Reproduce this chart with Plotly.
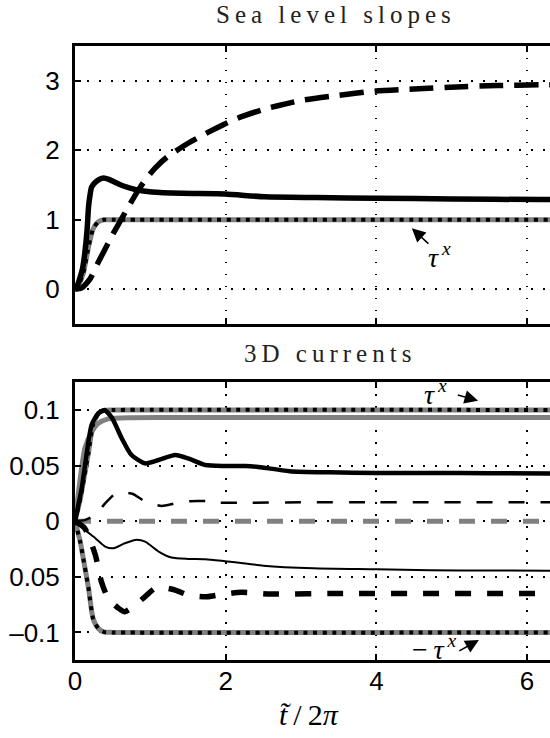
import plotly.graph_objects as go

# ---------------- data ----------------
# upper panel: sea level slopes
t_slope_dash = [0, 0.09, 0.2, 0.3, 0.4, 0.5, 0.6, 0.7, 0.82, 0.93, 1.06, 1.22, 1.5, 1.7, 1.88,
                2.07, 2.23, 2.48, 2.69, 3.02, 3.5, 3.99, 4.5, 5.06, 5.6, 6.17, 6.31]
slope_dash = [0, 0.02, 0.15, 0.37, 0.58, 0.79, 0.98, 1.17, 1.39, 1.57, 1.74, 1.90, 2.10, 2.22, 2.32,
              2.42, 2.49, 2.58, 2.64, 2.72, 2.79, 2.85, 2.88, 2.91, 2.93, 2.94, 2.94]

t_slope_solid = [0, 0.04, 0.07, 0.10, 0.13, 0.16, 0.18, 0.20, 0.22, 0.27, 0.32, 0.38, 0.45, 0.53,
                 0.61, 0.69, 0.82, 1.02, 1.42, 1.99, 2.52, 3.2, 4.0, 5.0, 6.17, 6.31]
slope_solid = [0, 0.08, 0.18, 0.30, 0.52, 0.85, 1.19, 1.36, 1.47, 1.54, 1.58, 1.60, 1.58, 1.54,
               1.50, 1.47, 1.43, 1.40, 1.38, 1.37, 1.33, 1.32, 1.31, 1.30, 1.29, 1.29]

t_tau_top = [0, 0.05, 0.11, 0.18, 0.24, 0.31, 0.38, 0.5, 6.31]
tau_top = [0, 0.07, 0.23, 0.61, 0.87, 0.97, 1.0, 1.0, 1.0]

# lower panel: 3D currents
t_tau = [0, 0.07, 0.11, 0.18, 0.24, 0.31, 0.38, 0.5, 6.31]
tau_pos = [0, 0.02, 0.035, 0.062, 0.087, 0.097, 0.0995, 0.1, 0.1]
tau_neg = [0, -0.0186, -0.0336, -0.0605, -0.0875, -0.0965, -0.0995, -0.1, -0.1]

t_sat = [0, 0.07, 0.13, 0.22, 0.31, 0.44, 0.75, 1.5, 6.31]
u_sat = [0, 0.0385, 0.0655, 0.080, 0.088, 0.092, 0.0931, 0.0932, 0.0932]

t_u1 = [0, 0.09, 0.22, 0.31, 0.39, 0.49, 0.62, 0.75, 0.93, 1.11, 1.33, 1.5, 1.73, 1.99,
        2.26, 2.41, 2.85, 3.38, 4.0, 4.71, 5.5, 6.31]
u1 = [0, 0.03, 0.0865, 0.097, 0.100, 0.093, 0.0746, 0.0595, 0.052, 0.055, 0.0595, 0.0565,
      0.0505, 0.0497, 0.0497, 0.049, 0.045, 0.044, 0.0434, 0.0434, 0.0432, 0.043]

t_u2 = [0, 0.13, 0.27, 0.40, 0.53, 0.64, 0.77, 0.93, 1.15, 1.33, 1.53, 1.75, 1.92, 2.26,
        3.0, 4.0, 6.31]
u2 = [0, 0.001, 0.0056, 0.016, 0.0245, 0.0259, 0.0245, 0.0177, 0.0137, 0.016, 0.018, 0.018,
      0.0166, 0.0166, 0.017, 0.017, 0.017]

t_zero = [0, 6.31]
u_zero = [0, 0]

t_u3 = [0, 0.13, 0.27, 0.40, 0.51, 0.66, 0.80, 0.93, 1.11, 1.28, 1.5, 1.73, 1.99, 2.26,
        2.5, 3.16, 4.0, 4.71, 5.5, 6.31]
u3 = [0, -0.0078, -0.0153, -0.0228, -0.0243, -0.0198, -0.0168, -0.0183, -0.0273, -0.0327,
      -0.0339, -0.0342, -0.0360, -0.0380, -0.0400, -0.0424, -0.0433, -0.0442, -0.0444, -0.0445]

t_u4 = [0, 0.13, 0.27, 0.35, 0.44, 0.58, 0.66, 0.77, 0.93, 1.06, 1.2, 1.33, 1.5, 1.75,
        1.95, 2.21, 2.6, 3.5, 6.31]
u4 = [0, -0.0064, -0.0304, -0.0544, -0.0694, -0.0784, -0.0814, -0.0769, -0.0679, -0.0604,
      -0.060, -0.0619, -0.0664, -0.0679, -0.0658, -0.064, -0.0655, -0.065, -0.065]

x_ticks = [0, 2, 4, 6]
x_ticktext = ["0", "2", "4", "6"]
slope_ticks = [0, 1, 2, 3]
slope_ticktext = ["0", "1", "2", "3"]
cur_ticks = [-0.1, -0.05, 0, 0.05, 0.1]
cur_ticktext = ["\u20130.1", "0.05", "0", "0.05", "0.1"]

# ---------------- figure ----------------
W, H = 550, 738
GRAY = "#808080"
SANS = "Liberation Sans"
SERIF = "Liberation Serif"

fig = go.Figure()


def line(x, y, xa, ya, color, width, dash="solid"):
    fig.add_trace(go.Scatter(
        x=x, y=y, xaxis=xa, yaxis=ya, mode="lines",
        line=dict(color=color, width=width, dash=dash, shape="spline", smoothing=0.6),
        showlegend=False, hoverinfo="skip"))


DOTS = "4px,5.6px"

# upper panel
line(t_tau_top, tau_top, "x", "y", GRAY, 5)
line(t_slope_dash, slope_dash, "x", "y", "black", 5.5, "24px,11px")
line(t_slope_solid, slope_solid, "x", "y", "black", 5.5)
line(t_tau_top, tau_top, "x", "y", "black", 4, DOTS)

# lower panel
line(t_tau, tau_pos, "x2", "y2", GRAY, 5)
line(t_tau, tau_neg, "x2", "y2", GRAY, 5)
line(t_sat, u_sat, "x2", "y2", GRAY, 5)
line(t_zero, u_zero, "x2", "y2", GRAY, 5, "16px,16px")
line(t_u1, u1, "x2", "y2", "black", 4.5)
line(t_u2, u2, "x2", "y2", "black", 2.5, "16px,16px")
line(t_u3, u3, "x2", "y2", "black", 2)
line(t_u4, u4, "x2", "y2", "black", 5.5, "16px,16px")
line(t_tau, tau_pos, "x2", "y2", "black", 4, DOTS)
line(t_tau, tau_neg, "x2", "y2", "black", 4, DOTS)

x0 = 75 / W
axis_common = dict(
    showline=True, linecolor="black", linewidth=3,
    ticks="inside", ticklen=6, tickwidth=1.5, tickcolor="black",
    showgrid=True, gridcolor="black", gridwidth=1.5, griddash="1.5px,10.5px",
    zeroline=False, automargin=False,
    tickfont=dict(family=SANS, size=26, color="black"),
)
x_range = [0, 475 / 75.35]

fig.update_layout(
    width=W, height=H, autosize=False,
    margin=dict(l=0, r=0, t=0, b=0),
    paper_bgcolor="white", plot_bgcolor="white",
    xaxis=dict(axis_common, domain=[x0, 1], range=x_range, anchor="y", mirror="ticks",
               tickvals=x_ticks, ticktext=x_ticktext, showticklabels=False),
    yaxis=dict(axis_common, domain=[1 - 324.1 / H, 1 - 45.9 / H], range=[-0.5, 3.5],
               anchor="x", tickvals=slope_ticks, ticktext=slope_ticktext, ticklabelstandoff=7),
    xaxis2=dict(axis_common, domain=[x0, 1], range=x_range, anchor="y2", mirror="ticks",
                tickvals=x_ticks, ticktext=x_ticktext, ticklabelstandoff=-4),
    yaxis2=dict(axis_common, domain=[1 - 660.2 / H, 1 - 382.2 / H], range=[-0.125, 0.125],
                anchor="x2", tickvals=cur_ticks, ticktext=cur_ticktext, ticklabelstandoff=7),
)


def spaced(s):
    return "\u2009".join(s)


# panel titles and axis label
fig.add_annotation(x=333 / W, y=1 - 14.5 / H, xref="paper", yref="paper",
                   text=spaced("Sea level slopes"), showarrow=False,
                   font=dict(family=SERIF, size=25, color="#222"),
                   xanchor="center", yanchor="middle")
fig.add_annotation(x=327 / W, y=1 - 353 / H, xref="paper", yref="paper",
                   text=spaced("3D currents"), showarrow=False,
                   font=dict(family=SERIF, size=25, color="#222"),
                   xanchor="center", yanchor="middle")
fig.add_annotation(x=309 / W, y=1 - 714 / H, xref="paper", yref="paper",
                   text="<i>t\u0303</i>\u2009/\u20092<i>\u03c0</i>", showarrow=False,
                   font=dict(family=SERIF, size=30, color="black"),
                   xanchor="center", yanchor="middle")

# forcing labels with arrows
tau_font = dict(family=SERIF, size=28, color="black")
arrow_style = dict(showarrow=True, text="", arrowhead=2, arrowsize=1.7,
                   arrowwidth=1.6, arrowcolor="black")
fig.add_annotation(x=4.84, y=0.49, xref="x", yref="y", showarrow=False,
                   text="<i>\u03c4</i><sup>\u2009<i>x</i></sup>", font=tau_font)
fig.add_annotation(x=4.47, y=0.877, ax=4.71, ay=0.637, xref="x", yref="y",
                   axref="x", ayref="y", **arrow_style)

fig.add_annotation(x=4.79, y=0.1153, xref="x2", yref="y2", showarrow=False,
                   text="<i>\u03c4</i><sup>\u2009<i>x</i></sup>", font=tau_font)
fig.add_annotation(x=5.35, y=0.1084, ax=5.06, ay=0.1139, xref="x2", yref="y2",
                   axref="x2", ayref="y2", **arrow_style)

fig.add_annotation(x=4.76, y=-0.114, xref="x2", yref="y2", showarrow=False,
                   text="\u2212\u2009<i>\u03c4</i><sup>\u2009<i>x</i></sup>", font=tau_font)
fig.add_annotation(x=5.36, y=-0.1068, ax=5.08, ay=-0.1174, xref="x2", yref="y2",
                   axref="x2", ayref="y2", **arrow_style)

fig.write_html("out.html")
